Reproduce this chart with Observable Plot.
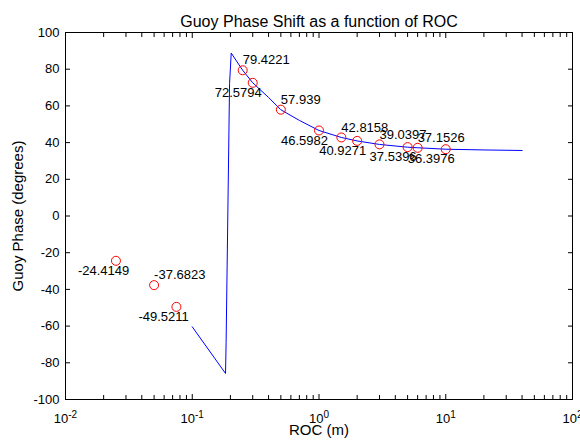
<!DOCTYPE html>
<html>
<head>
<meta charset="utf-8">
<script src="https://cdn.jsdelivr.net/npm/d3@7"></script>
<script src="https://cdn.jsdelivr.net/npm/@observablehq/plot@0.6"></script>
<style>
  body { margin: 0; background: #fff; }
</style>
</head>
<body>
<div id="chart"></div>
<script>
// Measured radius of curvature (m) and Gouy phase (degrees)
const roc = [0.025, 0.05, 0.075, 0.25, 0.3, 0.5, 1, 1.5, 2, 3, 5, 6, 10];
const phase = [-24.4149, -37.6823, -49.5211, 79.4221, 72.5794, 57.939, 46.5982,
               42.8158, 40.9271, 39.0397, 37.5396, 37.1526, 36.3976];

// Theoretical Gouy phase curve
const curveRoc = [0.1, 0.183, 0.185, 0.197, 0.203, 0.25, 0.3, 0.4, 0.5, 0.7, 1,
                  1.5, 2, 3, 5, 6, 10, 20, 40];
const curvePhase = [-60.4, -85.8, -68.9, 72.2, 88.8, 79.4, 72.6, 64.6, 57.9, 52.1, 46.6,
                    42.8, 40.9, 39.0, 37.5, 37.2, 36.4, 36.0, 35.7];

// Axis ticks
const xTicks = [0.01, 0.1, 1, 10, 100];
const yTicks = [-100, -80, -60, -40, -20, 0, 20, 40, 60, 80, 100];

const points = roc.map((r, i) => ({roc: r, phase: phase[i], i}));
const curve = curveRoc.map((r, i) => ({roc: r, phase: curvePhase[i]}));

// minor log ticks 2..9 within each decade
const minorTicks = [];
for (const d of xTicks.slice(0, -1)) for (let k = 2; k <= 9; ++k) minorTicks.push(d * k);

const font = '"Liberation Sans", Arial, sans-serif';

const chart = Plot.plot({
  width: 580,
  height: 444,
  marginLeft: 65,
  marginRight: 8,
  marginTop: 32,
  marginBottom: 45,
  style: {fontFamily: font, fontSize: "13px", color: "black", background: "white"},
  x: {type: "log", domain: [0.01, 100]},
  y: {domain: [-100, 100]},
  marks: [
    Plot.frame({stroke: "black"}),
    // inward tick marks on all four sides
    Plot.axisX({anchor: "bottom", ticks: xTicks, tickSize: -5, fill: "none", label: null}),
    Plot.axisX({anchor: "bottom", ticks: minorTicks, tickSize: -4, fill: "none", label: null}),
    Plot.axisX({anchor: "top", ticks: xTicks, tickSize: -5, fill: "none", label: null}),
    Plot.axisX({anchor: "top", ticks: minorTicks, tickSize: -4, fill: "none", label: null}),
    Plot.axisY({anchor: "left", ticks: yTicks, tickSize: -5, fill: "none", label: null}),
    Plot.axisY({anchor: "right", ticks: yTicks, tickSize: -5, fill: "none", label: null}),
    // tick labels
    Plot.axisX({anchor: "bottom", ticks: xTicks, tickSize: 0, tickPadding: 14, label: null,
      tickFormat: d => `10^${Math.round(Math.log10(d))}`}),
    Plot.axisY({anchor: "left", ticks: yTicks, tickSize: 0, tickPadding: 6, label: null,
      tickFormat: d => String(d)}),
    // curve and measured points
    Plot.line(curve, {x: "roc", y: "phase", stroke: "#0000ff", strokeWidth: 1}),
    Plot.dot(points, {x: "roc", y: "phase", r: 4.5, stroke: "#ff0000", strokeWidth: 1}),
    Plot.text(points.filter(d => d.i % 2 === 0), {x: "roc", y: "phase", text: d => String(d.phase),
      textAnchor: "start", dx: -38, dy: 10, fill: "black"}),
    Plot.text(points.filter(d => d.i % 2 === 1), {x: "roc", y: "phase", text: d => String(d.phase),
      textAnchor: "start", dx: 0, dy: -10, fill: "black"}),
    // title and axis labels
    Plot.text(["Guoy Phase Shift as a function of ROC"], {text: d => d, frameAnchor: "top",
      textAnchor: "middle", dy: -17, fontSize: 16, fill: "black"}),
    Plot.text(["ROC (m)"], {text: d => d, frameAnchor: "bottom", textAnchor: "middle",
      dy: 35, fontSize: 15, fill: "black"}),
    Plot.text(["Guoy Phase (degrees)"], {text: d => d, frameAnchor: "left", textAnchor: "middle",
      dx: -47, rotate: -90, fontSize: 15, fill: "black"})
  ]
});

// render exponents of the log-axis labels as superscripts
d3.select(chart).selectAll('g[aria-label="x-axis tick label"] text').each(function () {
  const t = d3.select(this);
  const [base, exp] = t.text().split("^");
  t.text(null);
  t.append("tspan").text(base);
  t.append("tspan").attr("dy", "-0.5em").attr("font-size", "10px").text(exp);
});

document.getElementById("chart").appendChild(chart);
</script>
</body>
</html>
